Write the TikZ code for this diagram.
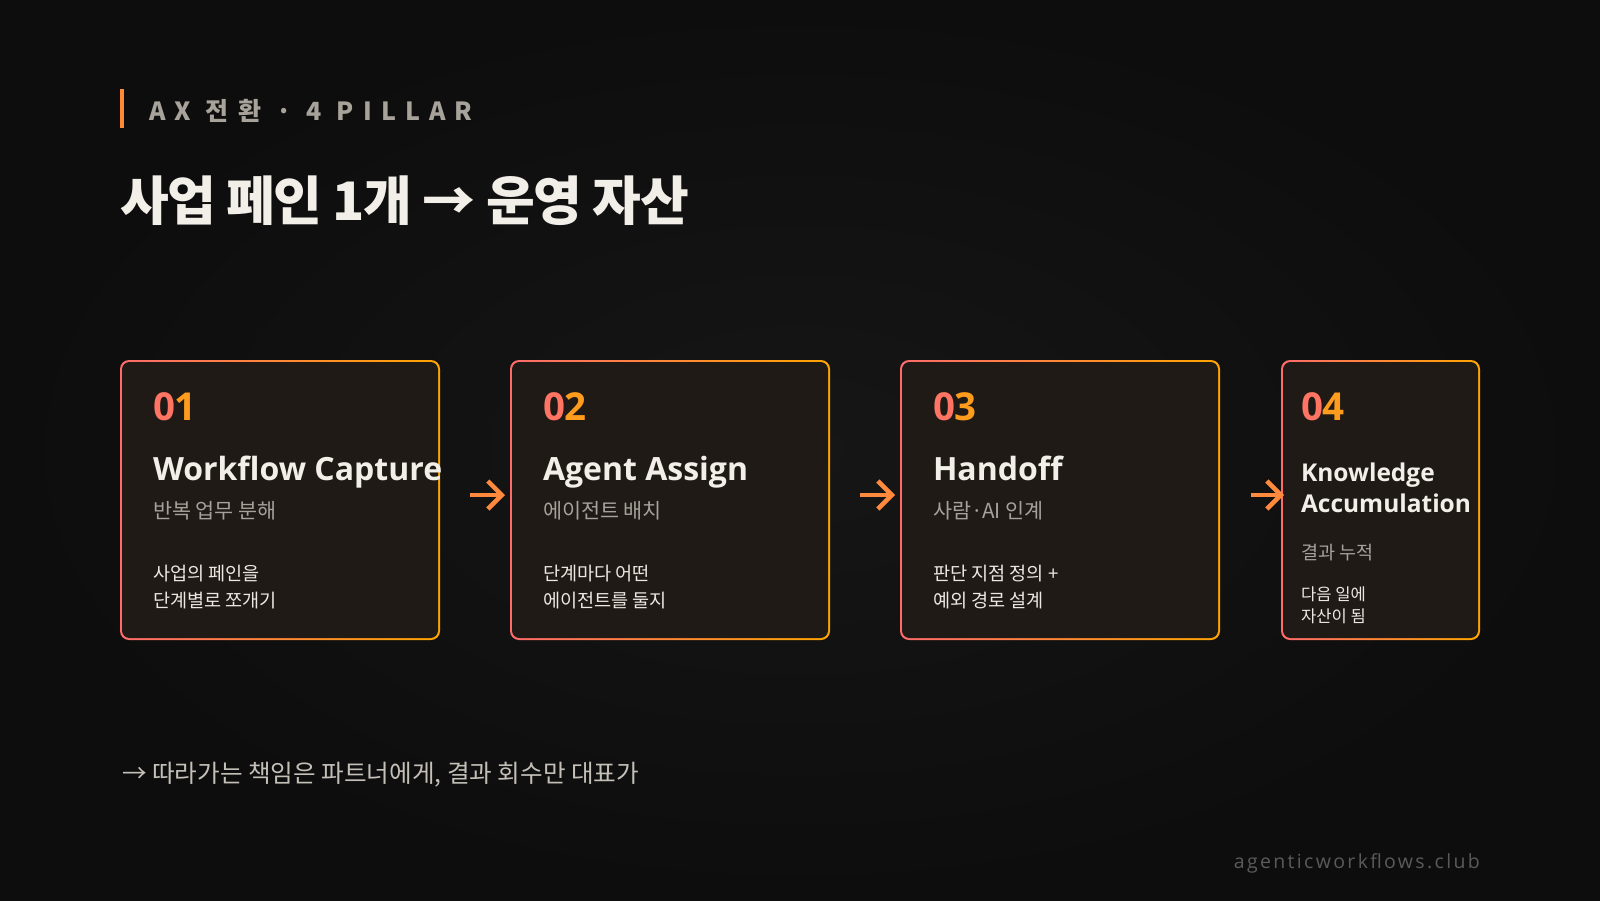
\documentclass[tikz,border=0pt]{standalone}
\usepackage{fontspec}
\setmainfont{Noto Sans CJK KR}
\newfontfamily\lat{Open Sans}
\usetikzlibrary{arrows.meta}
\definecolor{bg}{HTML}{111111}
\definecolor{bgin}{HTML}{161616}
\definecolor{bgout}{HTML}{0D0D0D}
\definecolor{cardbg}{HTML}{1F1A16}
\definecolor{coral}{HTML}{FF6B6B}
\definecolor{amber}{HTML}{FFA500}
\definecolor{numA}{HTML}{FF7462}
\definecolor{numB}{HTML}{FF9C1E}
\definecolor{ink}{HTML}{F2EFE9}
\definecolor{mute}{HTML}{A6A29B}
\definecolor{bodyc}{HTML}{ECE8E1}
\definecolor{foot}{HTML}{C4C0B8}
\definecolor{urlc}{HTML}{5A5A5A}
\definecolor{arrowc}{HTML}{FF8A3D}
\definecolor{barc}{HTML}{FF8A33}
\definecolor{kick}{HTML}{A8A39A}
\begin{document}
\begin{tikzpicture}[x=1pt,y=-1pt,
  card/.style={minimum width=320pt, minimum height=280pt, inner sep=0pt, outer sep=0pt, anchor=north west},
  txt/.style={anchor=base west, inner sep=0pt, outer sep=0pt},
  num/.style={txt, font=\lat\bfseries\fontsize{38.5}{38.5}\selectfont},
  ttl/.style={txt, text=ink, font=\lat\bfseries\fontsize{32}{32}\selectfont},
  ttlsm/.style={txt, text=ink, font=\lat\bfseries\fontsize{24.5}{24.5}\selectfont},
  sub/.style={txt, text=mute, font=\fontsize{20.7}{21}\selectfont},
  subsm/.style={txt, text=mute, font=\fontsize{18.5}{19}\selectfont},
  bodytxt/.style={txt, text=bodyc, font=\fontsize{18.6}{19}\selectfont},
  bodysm/.style={txt, text=bodyc, font=\fontsize{16.6}{17}\selectfont},
  arr/.style={draw=arrowc, line width=4.5pt, -{Straight Barb[length=14pt,width=28pt]}}
]
\useasboundingbox (0,0) rectangle (1600,900);
\fill[bg] (0,0) rectangle (1600,900);
\shade[inner color=bgin, outer color=bgout] (0,0) rectangle (1600,900);

% header
\fill[barc] (120,89) rectangle (124,128);
\node[txt, text=kick, font=\bfseries\fontsize{25}{25}\selectfont\addfontfeature{LetterSpace=37}] (kicker) at (149,120) {AX 전환 · 4 PILLAR};
\node[txt, text=ink, font=\bfseries\fontsize{53}{53}\selectfont\addfontfeature{LetterSpace=-3}] (title) at (120,220) {사업 페인 1개 → 운영 자산};

% cards
\node[card] (c1) at (120,360) {};
\node[card] (c2) at (510,360) {};
\node[card] (c3) at (900,360) {};
\node[card, minimum width=199pt] (c4) at (1281,360) {};
\foreach \c in {c1,c2,c3,c4} {
  \shade[left color=coral, right color=amber, rounded corners=9pt] (\c.south west) rectangle (\c.north east);
  \fill[cardbg, rounded corners=7.5pt] ([shift={(2pt,2pt)}]\c.south west) rectangle ([shift={(-2pt,-2pt)}]\c.north east);
}

% card 1
\node[num] (n1) at (153,420) {\textcolor{numA}{0}\textcolor{numB}{1}};
\node[ttl] (t1) at (153,480) {Workflow Capture};
\node[sub] (s1) at (153,518) {반복 업무 분해};
\node[bodytxt] (b1a) at (153,580) {사업의 페인을};
\node[bodytxt] (b1b) at (153,607) {단계별로 쪼개기};

% card 2
\node[num] (n2) at (543,420) {\textcolor{numA}{0}\textcolor{numB}{2}};
\node[ttl] (t2) at (543,480) {Agent Assign};
\node[sub] (s2) at (543,518) {에이전트 배치};
\node[bodytxt] (b2a) at (543,580) {단계마다 어떤};
\node[bodytxt] (b2b) at (543,607) {에이전트를 둘지};

% card 3
\node[num] (n3) at (933,420) {\textcolor{numA}{0}\textcolor{numB}{3}};
\node[ttl] (t3) at (933,480) {Handoff};
\node[sub] (s3) at (933,518) {사람·AI 인계};
\node[bodytxt] (b3a) at (933,580) {판단 지점 정의 +};
\node[bodytxt] (b3b) at (933,607) {예외 경로 설계};

% card 4
\node[num] (n4) at (1301,420) {\textcolor{numA}{0}\textcolor{numB}{4}};
\node[ttlsm] (t4a) at (1301,481) {Knowledge};
\node[ttlsm] (t4b) at (1301,512) {Accumulation};
\node[subsm] (s4) at (1301,559) {결과 누적};
\node[bodysm] (b4a) at (1301,600) {다음 일에};
\node[bodysm] (b4b) at (1301,622) {자산이 됨};

% arrows
\draw[arr] ([xshift=30pt,yshift=5pt]c1.east) -- ([xshift=-5pt,yshift=5pt]c2.west);
\draw[arr] ([xshift=30pt,yshift=5pt]c2.east) -- ([xshift=-5pt,yshift=5pt]c3.west);
\draw[arr] ([xshift=31pt,yshift=5pt]c3.east) -- ([xshift=3pt,yshift=5pt]c4.west);

% footer
\node[txt, text=foot, font=\fontsize{24.6}{25}\selectfont] (note) at (122,782) {→ 따라가는 책임은 파트너에게, 결과 회수만 대표가};
\node[anchor=base east, inner sep=0pt, text=urlc, font=\lat\fontsize{19.5}{20}\selectfont\addfontfeature{LetterSpace=12}] (url) at (1480,868) {agenticworkflows.club};
\end{tikzpicture}
\end{document}
